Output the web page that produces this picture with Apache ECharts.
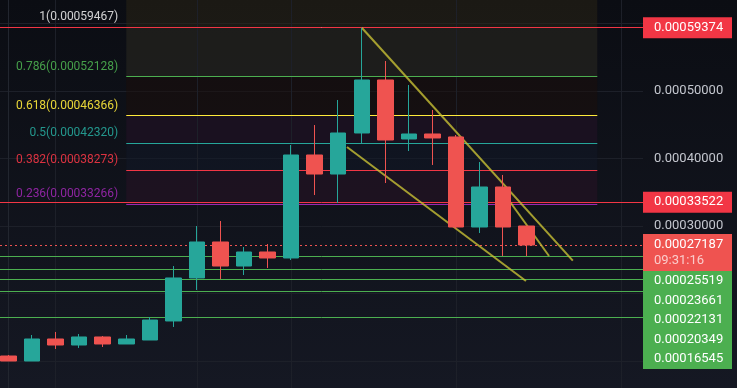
<!DOCTYPE html>
<html><head><meta charset="utf-8">
<script src="https://cdn.jsdelivr.net/npm/echarts@6/dist/echarts.min.js"></script>
<style>html,body{margin:0;padding:0;background:#0f1219;}#c{width:737px;height:388px;}</style>
</head><body><div id="c"></div>
<script>
// ---- data ----
const opens  = [0.0001074,0.0001000,0.0001326,0.0001237,0.0001356,0.0001252,0.0001311,0.0001593,0.0002230,0.0002763,0.0002407,0.0002615,0.0002526,0.0004052,0.0003770,0.0004378,0.0005163,0.0004289,0.0004363,0.0004319,0.0002985,0.0003578,0.0003000];
const closes = [0.0001000,0.0001326,0.0001237,0.0001356,0.0001252,0.0001326,0.0001607,0.0002230,0.0002763,0.0002407,0.0002615,0.0002526,0.0004052,0.0003770,0.0004378,0.0005163,0.0004274,0.0004363,0.0004304,0.0002985,0.0003578,0.0002985,0.00027187];
const lows   = [0.0001000,0.0001000,0.0001178,0.0001193,0.0001207,0.0001252,0.0001311,0.0001504,0.0002052,0.0002215,0.0002274,0.0002378,0.0002496,0.0003459,0.0003341,0.0004230,0.0003637,0.0004111,0.0003904,0.0002956,0.0002896,0.0002556,0.0002556];
const highs  = [0.0001089,0.0001385,0.0001430,0.0001400,0.0001370,0.0001385,0.0001652,0.0002407,0.0003000,0.0003074,0.0002689,0.0002733,0.0004200,0.0004496,0.0004867,0.00059374,0.0005444,0.0005089,0.0004719,0.0004348,0.0003948,0.0003756,0.0003000];

const fibRatios = ['1','0.786','0.618','0.5','0.382','0.236'];
const fibPrices = [0.00059467,0.00052128,0.00046366,0.00042320,0.00038273,0.00033266];
const fibStartIndex = 5, fibEndIndex = 25;

const redLevels = [0.00059374, 0.00033522];
const greenLevels = [0.00025519, 0.00023661, 0.00022131, 0.00020349, 0.00016545];
const lastPrice = 0.00027187;
const countdown = '09:31:16';
const axisTickLabels = [0.0003, 0.0004, 0.0005];
const timeGridIndices = [2, 8, 12, 19, 26];
const trendLines = [
  [[15, 0.00059374], [23.96, 0.0002486]],
  [[20.87, 0.0003563], [22.95, 0.0002556]],
  [[14.37, 0.000417], [21.97, 0.0002185]]
];

// ---- styles ----
const UP = '#26a69a', DOWN = '#ef5350';
const fibColors = ['#e6e6e6','#4caf50','#ffeb3b','#26a69a','#f23645','#9c27b0'];
const fibFills = ['rgba(46,44,34,0.5)','rgba(27,13,10,0.5)','rgba(38,18,39,0.5)','rgba(18,23,40,0.5)','rgba(41,17,37,0.5)'];
const aboveFill = 'rgba(43,37,21,0.5)';
const FONT = 'Roboto, "Liberation Sans", sans-serif';
const yMin = 0, yMax = 0.0007;
const xMin = -0.361, xMax = 26.94;

const candleData = opens.map((o,i)=>[i, o, closes[i], lows[i], highs[i]]);

const chart = echarts.init(document.getElementById('c'), null, {renderer:'canvas'});

function seg(x0,y0,x1,y1,ls){ return [{coord:[x0,y0], lineStyle:ls},{coord:[x1,y1], lineStyle:ls}]; }

const fibAreas = [];
fibAreas.push([{coord:[fibStartIndex, yMax], itemStyle:{color:aboveFill}}, {coord:[fibEndIndex, fibPrices[0]], itemStyle:{color:aboveFill}}]);
for (let i=0;i<fibPrices.length-1;i++){
  fibAreas.push([{coord:[fibStartIndex, fibPrices[i]], itemStyle:{color:fibFills[i]}}, {coord:[fibEndIndex, fibPrices[i+1]], itemStyle:{color:fibFills[i]}}]);
}
const fibLines = fibPrices.map((p,i)=>seg(fibStartIndex,p,fibEndIndex,p,{color:fibColors[i], width:1, type:'solid', opacity:1}));
const gridLs = {color:'#1d2029', width:1, type:'solid', opacity:1};
const vGrid = timeGridIndices.map(x=>seg(x,yMin,x,yMax,gridLs));
const hLines = [
  ...redLevels.map(v=>seg(xMin,v,xMax,v,{color:'#f23645', width:1, type:'solid', opacity:1})),
  ...greenLevels.map(v=>seg(xMin,v,xMax,v,{color:'#4caf50', width:1, type:'solid', opacity:1})),
  seg(xMin,lastPrice,xMax,lastPrice,{color:DOWN, width:1, type:[2,3], opacity:1})
];
const tLs = {color:'rgba(200,192,52,0.8)', width:2, type:'solid', opacity:1};
const tLines = trendLines.map(l=>seg(l[0][0],l[0][1],l[1][0],l[1][1],tLs));

chart.setOption({
  animation:false,
  backgroundColor:{type:'linear',x:0,y:0,x2:0,y2:1,colorStops:[{offset:0,color:'#0b0d13'},{offset:1,color:'#151823'}]},
  grid:{left:0, right:94, top:-44, bottom:-40.5, outerBoundsMode:'none', containLabel:false},
  xAxis:{type:'value', min:xMin, max:xMax, show:false, splitLine:{show:false}},
  yAxis:{type:'value', position:'right', min:yMin, max:yMax, interval:0.0001,
    axisLine:{show:true, lineStyle:{color:'#22262f'}}, axisTick:{show:false},
    splitLine:{show:true, lineStyle:{color:'#1d2029', width:1}},
    axisLabel:{margin:11, color:'#c3c6ce', fontSize:13, fontFamily:FONT,
      formatter:v=>axisTickLabels.some(t=>Math.abs(t-v)<1e-9)?v.toFixed(8):''}},
  series:[
    {type:'line', data:[], z:1, silent:true,
      markArea:{silent:true, data:fibAreas},
      markLine:{silent:true, symbol:'none', label:{show:false}, data:vGrid}},
    {type:'line', data:[], z:2, silent:true,
      markLine:{silent:true, symbol:'none', label:{show:false}, data:fibLines}},
    {type:'line', data:[], z:3, silent:true,
      markLine:{silent:true, symbol:'none', label:{show:false}, data:hLines}},
    {type:'candlestick', data:candleData, z:5, barWidth:16,
      itemStyle:{color:UP, color0:DOWN, borderColor:UP, borderColor0:DOWN, borderWidth:1}},
    {type:'line', data:[], z:6, silent:true,
      markLine:{silent:true, symbol:'none', label:{show:false}, data:tLines}}
  ]
});

// ---- labels (text) ----
const px = (x,v)=>chart.convertToPixel({gridIndex:0},[x,v]);
const axisX = px(xMax,0)[0];
const g = [];
function priceText(x,y,t,fill){ return {type:'text', z:100, style:{x:x, y:y, text:t, fill:fill, font:'13px '+FONT, align:'left', verticalAlign:'middle'}}; }

fibPrices.forEach((p,i)=>{
  const pt = px(fibStartIndex, p);
  g.push({type:'text', z:100, style:{x:pt[0]-8, y:pt[1]-10, text:fibRatios[i]+'('+p.toFixed(8)+')', fill:fibColors[i], font:'12px '+FONT, align:'right', verticalAlign:'middle', opacity:0.9}});
});
redLevels.forEach(v=>{
  const y = px(0,v)[1];
  g.push({type:'rect', z:99, shape:{x:axisX, y:y-10.5, width:89, height:21}, style:{fill:'#f23645'}});
  g.push(priceText(axisX+11, y, v.toFixed(8), '#ffffff'));
});
const ly = px(0,lastPrice)[1];
g.push({type:'rect', z:99, shape:{x:axisX, y:ly-11, width:89, height:37}, style:{fill:DOWN}});
g.push(priceText(axisX+11, ly, lastPrice.toFixed(8), '#ffffff'));
g.push(priceText(axisX+11, ly+16, countdown, 'rgba(255,255,255,0.7)'));
let prevBottom = ly+26;
const H = 19.6;
const tops = [];
greenLevels.forEach(v=>{
  const y = px(0,v)[1];
  const top = Math.max(y-H/2, prevBottom);
  tops.push(top); prevBottom = top+H;
});
g.push({type:'rect', z:99, shape:{x:axisX, y:tops[0], width:89, height:prevBottom-tops[0]}, style:{fill:'#4caf50'}});
greenLevels.forEach((v,i)=>g.push(priceText(axisX+11, tops[i]+H/2, v.toFixed(8), '#ffffff')));
chart.setOption({graphic:{elements:g}});
</script></body></html>
